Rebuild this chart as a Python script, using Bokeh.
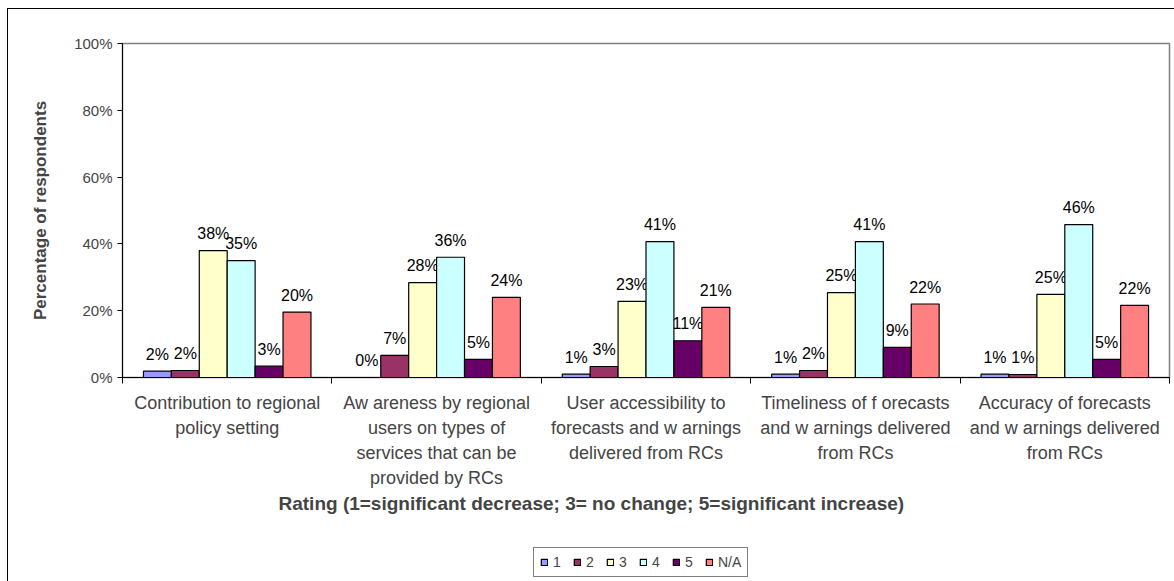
from bokeh.plotting import figure
from bokeh.layouts import column
from bokeh.models import (Range1d, FixedTicker, NumeralTickFormatter, Legend,
                          LegendItem, Title, ColumnDataSource)
from bokeh.core.properties import value
from bokeh.embed import file_html
from bokeh.resources import INLINE

# ---------------- data ----------------
categories = [
    "Contribution to regional\npolicy setting",
    "Aw areness by regional\nusers on types of\nservices that can be\nprovided by RCs",
    "User accessibility to\nforecasts and w arnings\ndelivered from RCs",
    "Timeliness of f orecasts\nand w arnings delivered\nfrom RCs",
    "Accuracy of forecasts\nand w arnings delivered\nfrom RCs",
]
series_names = ["1", "2", "3", "4", "5", "N/A"]
rating_1 = [0.019, 0.000, 0.010, 0.010, 0.010]
rating_2 = [0.021, 0.066, 0.033, 0.021, 0.009]
rating_3 = [0.380, 0.284, 0.228, 0.254, 0.249]
rating_4 = [0.350, 0.360, 0.407, 0.407, 0.458]
rating_5 = [0.034, 0.054, 0.110, 0.090, 0.054]
rating_na = [0.196, 0.240, 0.210, 0.220, 0.216]
series_values = [rating_1, rating_2, rating_3, rating_4, rating_5, rating_na]
series_colors = ["#9999FF", "#993366", "#FFFFCC", "#CCFFFF", "#660066", "#FF8080"]
y_ticks = [0, 0.2, 0.4, 0.6, 0.8, 1.0]
x_title = "Rating (1=significant decrease; 3= no change; 5=significant increase)"
y_title = "Percentage of respondents"

FONT = "Liberation Sans"

# ---------------- main chart ----------------
p = figure(width=1166, height=521, x_range=Range1d(0, len(categories)),
           y_range=Range1d(0, 1), output_backend="svg", toolbar_location=None,
           min_border_left=114, min_border_right=5, min_border_top=34,
           min_border_bottom=153)
p.xgrid.visible = False
p.ygrid.visible = False
p.outline_line_color = "#808080"
p.outline_line_width = 1.5
p.background_fill_color = "white"
p.border_fill_color = "white"

n = len(series_names)
bw = 0.8 / n
for i, (name, vals, col) in enumerate(zip(series_names, series_values, series_colors)):
    xs = [g + 0.5 + (i - (n - 1) / 2) * bw for g in range(len(categories))]
    src = ColumnDataSource(dict(x=xs, top=vals,
                                lab=[f"{v * 100:.0f}%" for v in vals]))
    p.vbar(x="x", top="top", width=bw, source=src, fill_color=col,
           line_color="black", line_width=1.2)
    p.text(x="x", y="top", text="lab", source=src, text_align="center",
           text_baseline="middle", y_offset=-17, text_font_size="16px",
           text_font=value(FONT), text_color="black")

# y axis
ya = p.yaxis[0]
ya.ticker = FixedTicker(ticks=y_ticks)
ya.formatter = NumeralTickFormatter(format="0%")
ya.major_tick_in = 0
ya.major_tick_out = 5
ya.minor_tick_line_color = None
ya.major_label_text_font = FONT
ya.major_label_text_font_size = "15px"
ya.major_label_standoff = 5
ya.axis_label = y_title
ya.axis_label_text_font = FONT
ya.axis_label_text_font_size = "17px"
ya.axis_label_text_font_style = "bold"
ya.axis_label_standoff = 21
ya.axis_line_color = "black"

# x axis: labels at centres, tick marks at group boundaries
xa = p.xaxis[0]
centers = [g + 0.5 for g in range(len(categories))]
bounds = list(range(len(categories) + 1))
xa.ticker = FixedTicker(ticks=centers, minor_ticks=bounds)
xa.major_label_overrides = {c: lab for c, lab in zip(centers, categories)}
xa.major_tick_line_color = None
xa.major_tick_out = 6
xa.minor_tick_in = 0
xa.minor_tick_out = 6
xa.minor_tick_line_color = "black"
xa.major_label_text_font = FONT
xa.major_label_text_font_size = "18px"
xa.major_label_text_line_height = 1.256
xa.major_label_standoff = 9
xa.axis_line_color = "black"

title = Title(text=x_title, align="left", offset=156, text_font=FONT,
              text_font_size="19px", text_font_style="bold", standoff=0)
p.add_layout(title, "below")

# ---------------- legend strip ----------------
p2 = figure(width=1166, height=51, x_range=Range1d(0, 1), y_range=Range1d(0, 1),
            output_backend="svg", toolbar_location=None, min_border=0,
            x_axis_location=None, y_axis_location=None)
p2.grid.visible = False
p2.outline_line_color = None
p2.background_fill_color = "white"
p2.border_fill_color = "white"
items = []
for name, col in zip(series_names, series_colors):
    # legend swatch holder, kept outside the visible range
    r = p2.vbar(x=[-1], top=[0], width=0.1, fill_color=col, line_color="black",
                line_width=1.2)
    items.append(LegendItem(label=name, renderers=[r]))
legend = Legend(items=items, orientation="horizontal", location=(411, 4),
                glyph_width=8, glyph_height=8, label_text_font=FONT,
                label_text_font_size="14px", border_line_color="black",
                border_line_width=1, padding=6, spacing=12, label_standoff=5,
                label_width=8, margin=0, label_height=11,
                background_fill_color="white")
p2.add_layout(legend)

layout = column(p, p2, spacing=0, margin=(8, 0, 0, 7),
                styles={"border-top": "1px solid black",
                        "border-left": "1px solid black"})

open("out.html", "w").write(file_html(layout, INLINE))
